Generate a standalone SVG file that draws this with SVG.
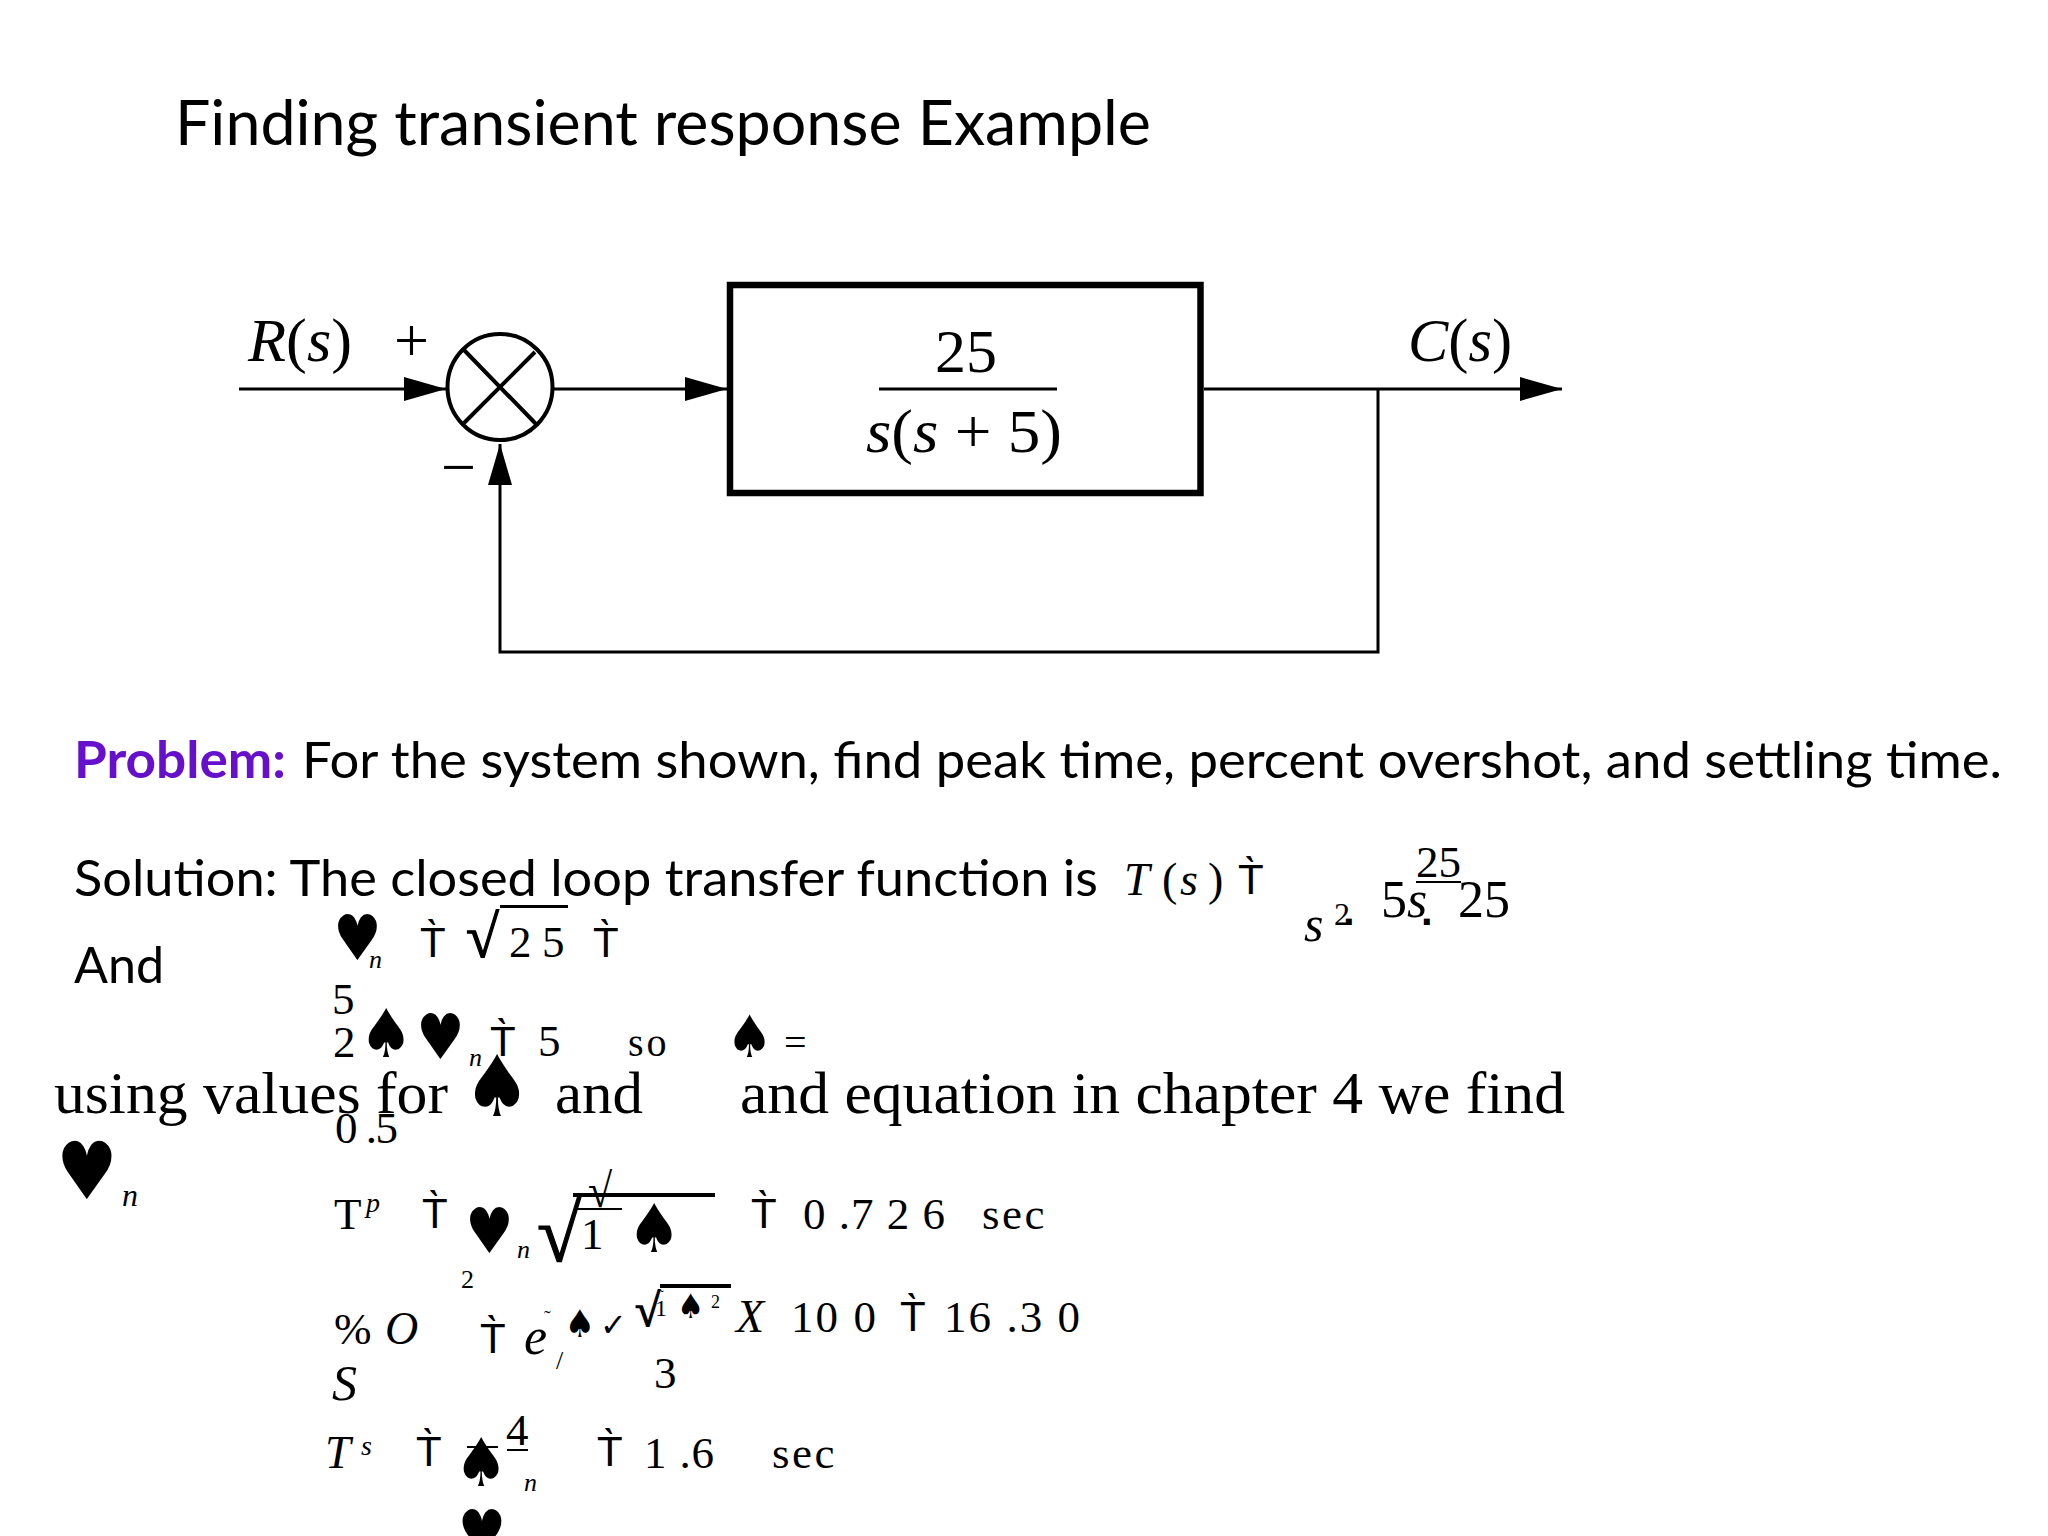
<svg xmlns="http://www.w3.org/2000/svg" width="2048" height="1536" viewBox="0 0 2048 1536">
<style>
.s{font-family:"Liberation Serif","Times New Roman",serif;fill:#000}
.i{font-style:italic}
.b{font-weight:700;stroke:#000;stroke-width:1.2}
.l{font-family:Lato,"Noto Sans",sans-serif;fill:#000;text-rendering:optimizeLegibility}
.g{font-family:"DejaVu Sans",sans-serif;fill:#000}
.t{font-family:"Liberation Sans",Arial,sans-serif;font-size:42px;fill:#000}
.w{fill:none;stroke:#000;stroke-width:3}
.bar{fill:#000}
</style>
<defs>
<marker id="a" markerUnits="userSpaceOnUse" markerWidth="44" markerHeight="26" refX="42" refY="12" orient="auto"><path d="M0 0L42 12L0 24Z"/></marker>
<marker id="a2" markerUnits="userSpaceOnUse" markerWidth="42" markerHeight="26" refX="41" refY="12" orient="auto"><path d="M0 0L41 12L0 24Z"/></marker>
</defs>
<rect width="2048" height="1536" fill="#fff"/>
<g id="title"><text class="l" x="175" y="145" font-size="61" textLength="976" lengthAdjust="spacingAndGlyphs">Finding transient response Example</text></g>
<g id="connectors">
<path class="w" d="M239 389H446" marker-end="url(#a)"/>
<path class="w" d="M553 389H727" marker-end="url(#a)"/>
<path class="w" d="M1204 389H1562" marker-end="url(#a)"/>
<path class="w" d="M1378 389V652H500V444" marker-end="url(#a2)"/>
</g>
<g id="labels-signal">
<text class="s i" x="248" y="361" font-size="62" textLength="104" lengthAdjust="spacingAndGlyphs">R<tspan font-style="normal">(</tspan>s<tspan font-style="normal">)</tspan></text>
<text class="s" x="394" y="361" font-size="62">+</text>
<text class="s" x="441" y="488" font-size="62">−</text>
<text class="s i" x="1408" y="361" font-size="62" textLength="104" lengthAdjust="spacingAndGlyphs">C<tspan font-style="normal">(</tspan>s<tspan font-style="normal">)</tspan></text>
</g>
<g id="summing-junction">
<ellipse cx="500" cy="387" rx="52.5" ry="53" fill="#fff" stroke="#000" stroke-width="4"/>
<path d="M464 350L536 424M535 352L464 423" fill="none" stroke="#000" stroke-width="4"/>
</g>
<g id="plant-block">
<rect x="730" y="285" width="470.5" height="208" fill="none" stroke="#000" stroke-width="6.5"/>
<text class="s" x="935" y="372" font-size="62">25</text>
<rect class="bar" x="879" y="387.5" width="178" height="3"/>
<text class="s" x="866" y="452" font-size="62" textLength="196" lengthAdjust="spacingAndGlyphs"><tspan font-style="italic">s</tspan>(<tspan font-style="italic">s</tspan> + 5)</text>
</g>
<g id="problem">
<text class="l" x="74" y="778" font-size="51" font-weight="700" style="fill:#6610cc" textLength="212" lengthAdjust="spacingAndGlyphs">Problem:</text>
<text class="l" x="302" y="778" font-size="51" textLength="1700" lengthAdjust="spacingAndGlyphs">For the system shown, find peak time, percent overshot, and settling time.</text>
<text class="l" x="74" y="896" font-size="51" textLength="1024" lengthAdjust="spacingAndGlyphs">Solution: The closed loop transfer function is</text>
<text class="l" x="74" y="983" font-size="51" textLength="90" lengthAdjust="spacingAndGlyphs">And</text>
</g>
<g id="eq-transfer">
<text class="s i" x="1124" y="895" font-size="46">T</text>
<text class="s" x="1162" y="895" font-size="46">(</text>
<text class="s i" x="1180" y="895" font-size="46">s</text>
<text class="s" x="1208" y="895" font-size="46">)</text>
<text class="t" x="1238" y="894">T̀</text>
<text class="s" x="1416" y="877" font-size="45">25</text>
<rect class="bar" x="1416" y="881" width="45" height="2"/>
<text class="s" x="1381" y="917" font-size="52">5<tspan font-style="italic">s</tspan></text>
<text class="s" x="1458" y="917" font-size="52">25</text>
<text class="s i" x="1304" y="941" font-size="50">s</text>
<text class="s" x="1334" y="925" font-size="32">2</text>
<text class="t" x="1343" y="925" font-weight="700" font-size="30">.</text>
<text class="t" x="1421" y="925" font-weight="700" font-size="30">.</text>
</g>
<g id="eq-wn">
<text class="g" transform="translate(333.2,960) scale(.9,1.05)" font-size="60">♥</text>
<text class="s i" x="369" y="968" font-size="26">n</text>
<text class="t" x="420" y="957">T̀</text>
<text class="s b" x="466" y="957" font-size="60">√</text>
<rect class="bar" x="500" y="905" width="68" height="3"/>
<text class="s" x="509" y="957" font-size="45">2</text><text class="s" x="542" y="957" font-size="45">5</text>
<text class="t" x="593" y="957">T̀</text>
<text class="s" x="332" y="1014" font-size="45">5</text>
<text class="s" x="333" y="1057" font-size="45">2</text>
<text class="g" transform="translate(359.2,1057) scale(1,1.12)" font-size="60">♠</text>
<text class="g" transform="translate(416.2,1059) scale(.9,1.05)" font-size="60">♥</text>
<text class="s i" x="469" y="1066" font-size="26">n</text>
<text class="t" x="490" y="1056">T̀</text>
<text class="s" x="538" y="1056" font-size="45">5</text>
<text class="s" x="628" y="1056" font-size="40" letter-spacing="3">so</text>
<text class="g" transform="translate(726.2,1057) scale(1,1.12)" font-size="52">♠</text>
<text class="s" x="784" y="1056" font-size="40">=</text>
</g>
<g id="using-values">
<text class="s" x="54" y="1113" font-size="60" textLength="394" lengthAdjust="spacingAndGlyphs">using values for</text>
<text class="g" transform="translate(463.1,1116) scale(1,1.12)" font-size="76">♠</text>
<text class="s" x="555" y="1113" font-size="60" textLength="88" lengthAdjust="spacingAndGlyphs">and</text>
<text class="s" x="740" y="1113" font-size="60" textLength="825" lengthAdjust="spacingAndGlyphs">and equation in chapter 4 we find</text>
<text class="s" x="335" y="1143" font-size="45" textLength="63" lengthAdjust="spacing">0 .5</text>
<text class="g" transform="translate(56.2,1199) scale(.9,1.05)" font-size="76">♥</text>
<text class="s i" x="122" y="1206" font-size="32">n</text>
</g>
<g id="eq-tp">
<text class="s" x="334" y="1229" font-size="45">T</text>
<text class="s i" x="366" y="1212" font-size="28">p</text>
<text class="t" x="422" y="1228">T̀</text>
<text class="g" transform="translate(465.2,1253) scale(.9,1.05)" font-size="60">♥</text>
<text class="s i" x="517" y="1258" font-size="26">n</text>
<text class="s b" x="537" y="1261" font-size="80">√</text>
<rect class="bar" x="573" y="1193" width="142" height="4"/>
<text class="s" transform="translate(588,1207) scale(1.1,1.2)" font-size="40">√</text>
<rect class="bar" x="576" y="1208" width="46" height="2"/>
<text class="s" x="581" y="1249" font-size="45">1</text>
<text class="g" transform="translate(627.2,1252) scale(1,1.12)" font-size="60">♠</text>
<text class="t" x="751" y="1228">T̀</text>
<text class="s" x="803" y="1229" font-size="45" textLength="142" lengthAdjust="spacing">0 .7 2 6</text>
<text class="s" x="982" y="1229" font-size="45" letter-spacing="2.5">sec</text>
</g>
<g id="eq-os">
<text class="s" x="461" y="1288" font-size="26">2</text>
<text class="s" x="334" y="1344" font-size="45">%</text>
<text class="s i" x="385" y="1344" font-size="46">O</text>
<text class="t" x="480" y="1353">T̀</text>
<text class="s i" x="524" y="1354" font-size="52">e</text>
<text class="s" x="544" y="1325" font-size="20">˜</text>
<text class="g" transform="translate(564.6,1337) scale(1,1.12)" font-size="34">♠</text>
<text class="g" x="600" y="1336" font-size="32">✓</text>
<text class="s" x="556" y="1369" font-size="26">/</text>
<text class="s b" x="635" y="1326" font-size="46">√</text>
<rect class="bar" x="660" y="1284" width="71" height="4"/>
<text class="s" x="655" y="1316" font-size="24">1</text>
<text class="s" x="659" y="1300" font-size="14">˜</text>
<text class="g" transform="translate(677.1,1318) scale(1,1.12)" font-size="30">♠</text>
<text class="s" x="711" y="1308" font-size="18">2</text>
<text class="s i" x="736" y="1332" font-size="46">X</text>
<text class="s" x="791" y="1332" font-size="45" textLength="85" lengthAdjust="spacing">10 0</text>
<text class="t" x="900" y="1331">T̀</text>
<text class="s" x="944" y="1332" font-size="45" textLength="136" lengthAdjust="spacing">16 .3 0</text>
<text class="s" x="654" y="1388" font-size="45">3</text>
<text class="s i" x="332" y="1400" font-size="50">S</text>
</g>
<g id="eq-ts">
<text class="s i" x="325" y="1468" font-size="46">T</text>
<text class="s i" x="361" y="1455" font-size="28">s</text>
<text class="t" x="416" y="1466">T̀</text>
<rect class="bar" x="467" y="1446" width="31" height="2"/>
<text class="g" transform="translate(454.2,1486) scale(1,1.12)" font-size="60">♠</text>
<text class="s" x="506" y="1445" font-size="45">4</text>
<rect class="bar" x="507" y="1449" width="21" height="2"/>
<text class="s i" x="524" y="1491" font-size="26">n</text>
<text class="t" x="597" y="1466">T̀</text>
<text class="s" x="644" y="1468" font-size="45" textLength="70" lengthAdjust="spacing">1 .6</text>
<text class="s" x="772" y="1468" font-size="45" letter-spacing="2.5">sec</text>
<text class="g" transform="translate(457.7,1555) scale(.9,1.05)" font-size="60">♥</text>
</g>
</svg>
